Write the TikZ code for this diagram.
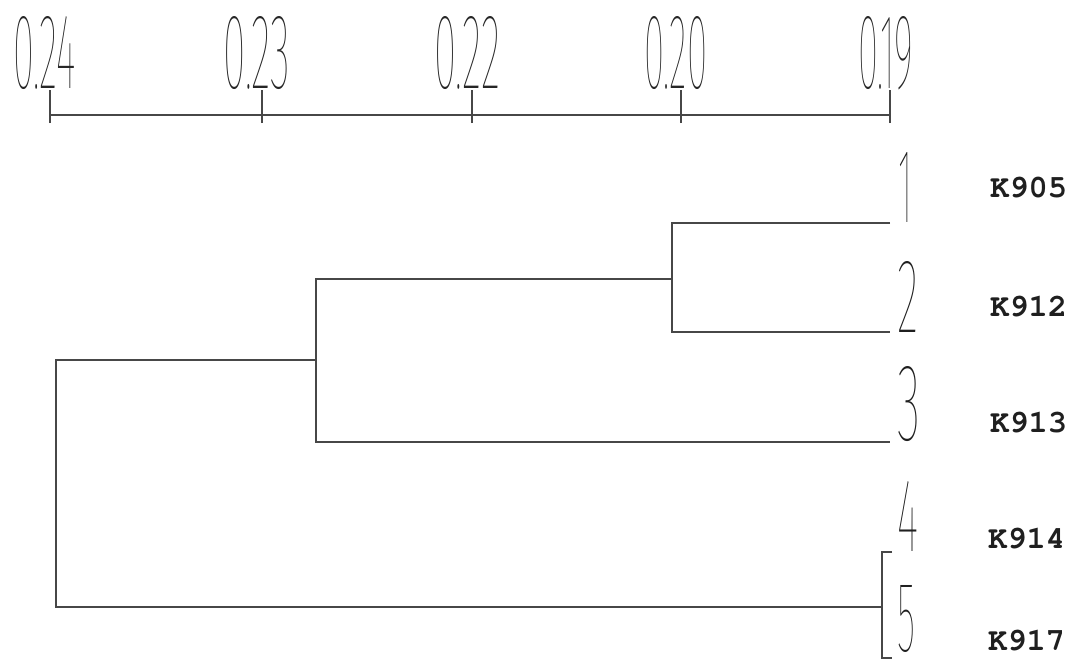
\documentclass[tikz,border=0pt]{standalone}
\usepackage{fontspec}
\usepackage{graphicx}
\IfFontExistsTF{Fira Sans Thin}{\newfontfamily\numfont{Fira Sans Thin}}{%
  \IfFontExistsTF{Fira Sans Light}{\newfontfamily\numfont{Fira Sans Light}}{\newfontfamily\numfont{Fira Sans}}}
\IfFontExistsTF{TeX Gyre Cursor}{\newfontfamily\labfont{TeX Gyre Cursor}}{\newfontfamily\labfont{Liberation Mono}}
\tikzset{
  link/.style={draw=black!72, line width=1.7pt, line join=miter},
  axisline/.style={draw=black!72, line width=1.5pt},
  ticklab/.style={inner sep=0pt, anchor=south west, text=black!85, font=\numfont\fontsize{36}{36}\selectfont},
  leafnum/.style={inner sep=0pt, anchor=south west, text=black!88, font=\numfont\fontsize{36}{36}\selectfont},
  leaflab/.style={inner sep=0pt, anchor=base west, text=black!88, font=\labfont\bfseries\fontsize{32}{32}\selectfont},
}
\begin{document}
\begin{tikzpicture}[x=1pt, y=-1pt]
\useasboundingbox (0,0) rectangle (1076,662);
% axis
\coordinate (t0) at (50,115);
\coordinate (t1) at (262,115);
\coordinate (t2) at (472,115);
\coordinate (t3) at (681,115);
\coordinate (t4) at (890,115);
\draw[axisline] (t0) -- (t4);
\foreach \t in {t0,t1,t2,t3,t4} \draw[axisline] (\t) ++(0,8) -- ++(0,-33);
\node[ticklab] (lab0) at (13,90) {\resizebox{63pt}{72pt}{0.24}};
\node[ticklab] (lab1) at (223,90) {\resizebox{67pt}{72pt}{0.23}};
\node[ticklab] (lab2) at (434,90) {\resizebox{66pt}{72pt}{0.22}};
\node[ticklab] (lab3) at (644,90) {\resizebox{63pt}{72pt}{0.20}};
\node[ticklab] (lab4) at (858,90) {\resizebox{55pt}{72pt}{0.19}};
% leaves
\coordinate (l1) at (890,223);
\coordinate (l2) at (890,332);
\coordinate (l3) at (890,442);
\coordinate (b4) at (892,552);
\coordinate (b5) at (892,658);
\coordinate (j45) at (882,607);
% internal nodes
\coordinate (a) at (672,279);
\coordinate (b) at (316,360);
\coordinate (r) at (56,480);
\draw[link] (l1) -| (a) |- (l2);
\draw[link] (a) -| (b) |- (l3);
\draw[link] (b) -| (r) |- (j45);
\draw[link] (b4) -| (j45) |- (b5);
% leaf numbers
\node[leafnum] (n1) at (898,223) {\resizebox{14pt}{70pt}{1}};
\node[leafnum] (n2) at (897,333) {\resizebox{21pt}{71pt}{2}};
\node[leafnum] (n3) at (897,442) {\resizebox{23pt}{74pt}{3}};
\node[leafnum] (n4) at (897,552) {\resizebox{21pt}{70pt}{4}};
\node[leafnum] (n5) at (897,653) {\resizebox{18pt}{66pt}{5}};
% leaf labels
\node[leaflab] (k1) at (990,197) {K905};
\node[leaflab] (k2) at (990,316) {K912};
\node[leaflab] (k3) at (990,432) {K913};
\node[leaflab] (k4) at (988,548) {K914};
\node[leaflab] (k5) at (988,650) {K917};
\end{tikzpicture}
\end{document}
